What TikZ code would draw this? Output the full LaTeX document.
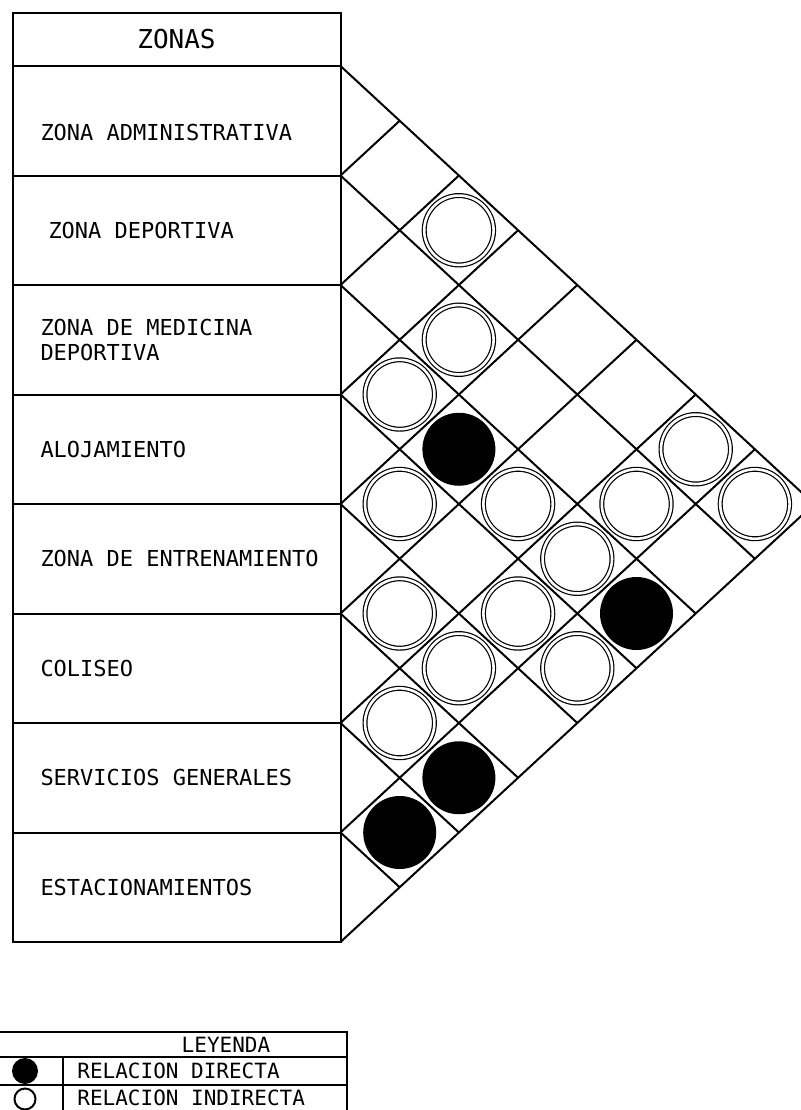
\documentclass[tikz,border=0pt]{standalone}
\usepackage{fontspec}
\setmonofont{DejaVu Sans Mono}
\usetikzlibrary{positioning}

\begin{document}
\begin{tikzpicture}[
    x=0.5pt, y=-0.5pt,
    zona/.style={rectangle, draw, line width=1pt, outer sep=0pt,
                 minimum width=164pt, minimum height=54.75pt,
                 text width=136pt, inner xsep=14pt, align=flush left,
                 font=\ttfamily\fontsize{11}{12.5}\selectfont},
    indirecta/.style={circle, draw, double, line width=0.6pt,
                      double distance=1.3pt, minimum size=34.7pt, inner sep=0pt},
    directa/.style={circle, fill=black, minimum size=36.5pt, inner sep=0pt},
    diag/.style={line width=1pt},
    ley/.style={font=\ttfamily\fontsize{10.5}{12}\selectfont, inner sep=0pt}
  ]
  \useasboundingbox (0,0) rectangle (801,1110);

  % Zone table
  \node[zona, minimum height=26.75pt, align=center,
        font=\ttfamily\fontsize{13}{14}\selectfont] (zonas) at (176.5,39.25) {ZONAS};
  \node[zona, below=0pt of zonas] (adm)
    {\raisebox{-6pt}[\height][\depth]{ZONA ADMINISTRATIVA}};
  \node[zona, below=0pt of adm] (dep) {\hspace*{4pt}ZONA DEPORTIVA};
  \node[zona, below=0pt of dep] (med) {ZONA DE MEDICINA\\DEPORTIVA};
  \node[zona, below=0pt of med] (alo) {ALOJAMIENTO};
  \node[zona, below=0pt of alo] (ent) {\mbox{ZONA DE ENTRENAMIENTO}};
  \node[zona, below=0pt of ent] (col) {COLISEO};
  \node[zona, below=0pt of col] (ser) {SERVICIOS GENERALES};
  \node[zona, below=0pt of ser] (est) {ESTACIONAMIENTOS};

  % Relation grid
  \begin{scope}[shift={(zonas.south east)}, x=29.6pt, y=-27.375pt]
    \draw[diag] (0,0) -- (8,8);
    \draw[diag] (0,2) -- (7,9);
    \draw[diag] (0,4) -- (6,10);
    \draw[diag] (0,6) -- (5,11);
    \draw[diag] (0,8) -- (4,12);
    \draw[diag] (0,10) -- (3,13);
    \draw[diag] (0,12) -- (2,14);
    \draw[diag] (0,14) -- (1,15);
    \draw[diag] (0,2) -- (1,1);
    \draw[diag] (0,4) -- (2,2);
    \draw[diag] (0,6) -- (3,3);
    \draw[diag] (0,8) -- (4,4);
    \draw[diag] (0,10) -- (5,5);
    \draw[diag] (0,12) -- (6,6);
    \draw[diag] (0,14) -- (7,7);
    \draw[diag] (0,16) -- (8,8);

    % Indirect relations
    \node[indirecta] (r13) at (2,3) {};
    \node[indirecta] (r24) at (2,5) {};
    \node[indirecta] (r34) at (1,6) {};
    \node[indirecta] (r17) at (6,7) {};
    \node[indirecta] (r45) at (1,8) {};
    \node[indirecta] (r36) at (3,8) {};
    \node[indirecta] (r27) at (5,8) {};
    \node[indirecta] (r18) at (7,8) {};
    \node[indirecta] (r37) at (4,9) {};
    \node[indirecta] (r56) at (1,10) {};
    \node[indirecta] (r47) at (3,10) {};
    \node[indirecta] (r57) at (2,11) {};
    \node[indirecta] (r48) at (4,11) {};
    \node[indirecta] (r67) at (1,12) {};

    % Direct relations
    \node[directa] (r35) at (2,7) {};
    \node[directa] (r38) at (5,10) {};
    \node[directa] (r68) at (2,13) {};
    \node[directa] (r78) at (1,14) {};
  \end{scope}

  % Legend
  \draw[diag] (-2,1032) rectangle (347,1114);
  \draw[diag] (-2,1057) -- (347,1057);
  \draw[diag] (-2,1085) -- (347,1085);
  \draw[diag] (63,1057) -- (63,1114);
  \node[ley] (leyenda) at (226,1044.5) {LEYENDA};
  \node[directa, minimum size=13pt] (sdir) at (25,1071) {};
  \node[circle, draw, line width=1pt, minimum size=10.5pt, inner sep=0pt] (sind) at (25,1099) {};
  \node[ley, anchor=west] (tdir) at (77,1071) {RELACION DIRECTA};
  \node[ley, anchor=west] (tind) at (77,1098) {RELACION INDIRECTA};
\end{tikzpicture}
\end{document}
